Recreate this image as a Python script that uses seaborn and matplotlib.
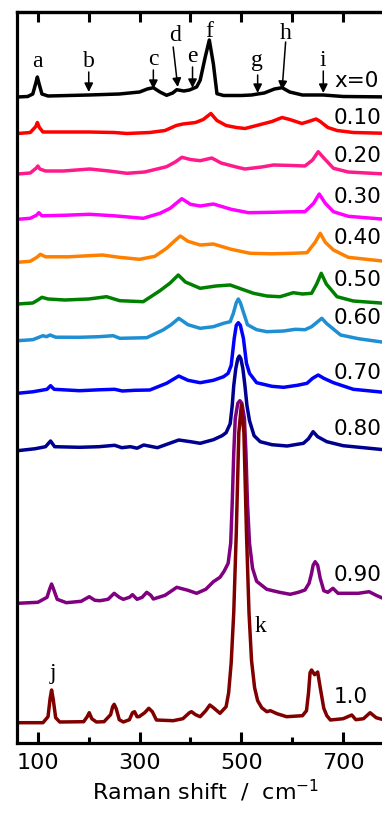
import numpy as np
import pandas as pd
import matplotlib
matplotlib.use("Agg")
import matplotlib.pyplot as plt
import seaborn as sns

# ---------------- data ----------------
samples = ["x=0", "0.10", "0.20", "0.30", "0.40", "0.50", "0.60", "0.70", "0.80", "0.90", "1.0"]
colors = ["#000000", "#ff0000", "#ff1a8c", "#ff00ff", "#ff8000", "#008000",
          "#1e8fd2", "#0000ff", "#000090", "#800080", "#800000"]

shift_x0 = [60, 80, 90, 96, 99, 102, 108, 120, 200, 260, 300, 315, 327, 340, 353, 365, 373, 387,
            398, 404, 412, 419, 429, 437, 445, 452, 465, 500, 520, 532, 545, 565, 580, 595, 620, 661, 700, 800]
int_x0 = [0, 0.5, 3, 14, 20, 14, 3, 1, 2, 3, 5, 8, 9.3, 5, 1.7, 4, 7.3, 6,
          7, 8.3, 10, 16.7, 40, 57, 33, 3.3, 1.5, 1.5, 2, 3, 4, 8, 9.3, 5, 2, 2, 0.5, 0]

shift_010 = [60, 85, 96, 99, 103, 110, 150, 200, 250, 275, 320, 350, 372, 385, 410, 425, 440, 452, 470,
             490, 507, 530, 560, 580, 595, 619, 632, 647, 655, 670, 688, 720, 800]
int_010 = [0, 1, 7, 11, 6, 1.5, 1.5, 1.5, 1, 0, 1, 3, 8, 9.5, 11, 14, 20, 13, 8,
           6, 5, 8, 12, 16, 14, 10, 12, 14.5, 12, 6, 3, 1, 0]

shift_020 = [60, 85, 97, 100, 104, 115, 150, 202, 240, 275, 310, 353, 370, 383, 400, 419, 442, 460,
             490, 507, 540, 563, 600, 625, 640, 651, 662, 681, 710, 800]
int_020 = [0, 1, 6, 8, 5, 3, 3, 5, 3, 0.7, 2, 7.3, 12, 16.7, 14.5, 13.3, 16, 11,
           7, 5, 7, 9, 8.5, 8, 14, 22.3, 16, 5.7, 2, -0.5]

shift_030 = [60, 85, 97, 102, 108, 150, 202, 250, 307, 340, 360, 383, 400, 419, 445, 480, 514, 560,
             600, 625, 642, 653, 665, 681, 710, 800]
int_030 = [0, 1, 4, 6.6, 3.5, 4, 5, 3.5, 1, 6, 11, 20.6, 15, 13.3, 15.3, 10, 6.6, 7,
           7.5, 7.6, 16, 25.3, 16, 7.6, 3, -0.7]

shift_040 = [60, 85, 98, 105, 115, 160, 227, 260, 300, 330, 353, 370, 380, 395, 419, 445, 480, 517,
             560, 600, 629, 645, 655, 665, 681, 710, 800]
int_040 = [0, 1, 5, 8, 5.5, 5.5, 7.3, 5, 3, 6, 14, 22, 26.3, 21, 17.3, 18.3, 13, 9,
           8.5, 9, 9.6, 20, 29, 20, 12.3, 5, 0]

shift_050 = [60, 90, 100, 108, 120, 153, 200, 235, 261, 307, 340, 360, 376, 390, 419, 450, 478, 500,
             524, 550, 576, 602, 620, 638, 648, 657, 667, 688, 720, 800]
int_050 = [0, 1, 4, 6.7, 5, 4, 5, 7.3, 3.3, 2.3, 13.3, 21, 29, 22, 15.7, 18, 19, 15,
           10.7, 8, 7.3, 11.3, 10, 10.7, 20, 30.7, 20, 7.3, 3, 0]

shift_060 = [60, 90, 110, 117, 124, 135, 181, 220, 248, 261, 314, 346, 362, 377, 395, 419, 445, 465,
             478, 484, 490, 494, 498, 505, 512, 530, 550, 583, 606, 625, 638, 650, 658, 668, 695, 730, 800]
int_060 = [0, 1, 5, 4, 5.7, 3.5, 3.4, 4, 5, 2.4, 3, 10.7, 16, 22.4, 16, 12.4, 14, 17.4,
           19, 27, 38, 41.7, 38, 27, 16, 11, 9, 9.7, 11.4, 11, 14, 19, 22.4, 17, 5.7, 2, -3]

shift_070 = [60, 90, 118, 125, 132, 182, 220, 251, 266, 290, 320, 353, 377, 395, 419, 445, 465, 474,
             480, 486, 490, 494, 498, 504, 510, 516, 530, 560, 583, 610, 629, 640, 651, 662, 681, 720, 800]
int_070 = [0, 1.5, 4, 7.6, 4, 2.6, 3.5, 4, 2.3, 3, 3.3, 10, 17.3, 13, 10.6, 13, 16.6, 20,
           28, 55, 68, 70.6, 68, 55, 30, 20, 10.6, 7, 6, 8, 10, 15, 18.3, 15, 10.6, 4, 0]

shift_080 = [60, 95, 115, 125, 133, 182, 220, 251, 265, 282, 295, 308, 335, 377, 400, 419, 445, 462,
             470, 478, 482, 485, 489, 493, 496, 499, 503, 507, 511, 516, 525, 537, 560, 590, 622,
             632, 641, 650, 668, 700, 800]
int_080 = [0, 2, 4, 9.7, 4, 3.4, 4, 5.4, 3, 4, 2.5, 5.7, 3, 10.7, 9, 7.4, 11, 15,
           18, 27, 45, 65, 82, 92, 94.7, 92, 82, 65, 45, 30, 15, 9, 6, 4.7, 7.4,
           12, 19, 14, 9, 5, 0]

shift_090 = [60, 100, 118, 123, 127, 131, 138, 156, 185, 201, 212, 222, 238, 250, 260, 268, 280, 286,
             295, 305, 314, 322, 327, 350, 373, 395, 412, 430, 445, 458, 466, 474, 479, 482, 485,
             488, 493, 497, 501, 506, 509, 512, 516, 522, 530, 550, 575, 596, 612, 625, 633, 638,
             641, 645, 650, 655, 662, 670, 680, 690, 701, 730, 751, 765, 800]
int_090 = [0, 1, 6, 14, 19.3, 14, 4, 0.6, 2, 6.6, 3, 2.6, 4, 10, 6, 4, 6, 8.6,
           4, 6, 11, 8, 4.3, 8, 16, 13, 10, 14, 21.6, 26, 32, 40, 60, 100, 150,
           185, 200, 202.6, 200, 185, 150, 100, 60, 35, 22, 14, 11, 9, 11, 13.3, 20, 30,
           38, 41.6, 38, 25, 12.6, 11, 15, 10, 10, 10, 11.6, 8, 0]

shift_100 = [60, 110, 120, 124, 127, 130, 135, 143, 190, 197, 201, 206, 215, 230, 243, 247, 250, 254,
             260, 268, 280, 286, 290, 295, 299, 310, 318, 325, 333, 366, 385, 398, 402, 410, 419,
             430, 438, 445, 458, 470, 475, 480, 485, 490, 495, 500, 505, 510, 515, 520, 526, 532,
             540, 550, 557, 570, 589, 620, 628, 632, 635, 638, 644, 650, 655, 662, 668, 675, 700,
             717, 725, 740, 753, 765, 800]
int_100 = [0, 0, 6, 24, 32.7, 24, 5, 0.7, 1, 6, 10, 4, 0.7, 1, 8, 16, 18.4, 14,
           3, 0.7, 3, 10, 11, 6, 6, 10, 14.4, 11, 2.7, 2, 4, 10, 11, 8, 6,
           12, 17.7, 15, 9.4, 16, 30, 60, 110, 190, 290, 317.7, 290, 190, 110, 62, 35, 22,
           15, 11, 12, 9, 6, 7, 12, 30, 50, 52.7, 48, 50.7, 35, 14.4, 7, 2.7, 4,
           7.7, 3, 4, 10, 5, 0]

shifts = [shift_x0, shift_010, shift_020, shift_030, shift_040, shift_050,
          shift_060, shift_070, shift_080, shift_090, shift_100]
intensities = [int_x0, int_010, int_020, int_030, int_040, int_050,
               int_060, int_070, int_080, int_090, int_100]

# vertical stacking offsets of the curves (plot layout)
offsets = [646, 609.5, 569, 523.7, 480.7, 439, 402.3, 349.7, 292.3, 139.7, 20.3]
label_y = [662, 625, 587, 546, 505, 463, 425, 370, 314, 168, 46]

# ---------------- build table ----------------
frames = []
for s, xs, ys, off in zip(samples, shifts, intensities, offsets):
    frames.append(pd.DataFrame({"shift": xs,
                                "signal": np.asarray(ys, float) + off,
                                "sample": s}))
df = pd.concat(frames, ignore_index=True)

# ---------------- plot ----------------
sns.set_theme(style="white")
plt.rcParams["font.family"] = ["DejaVu Sans"]
plt.rcParams["text.color"] = "black"
plt.rcParams["axes.labelcolor"] = "black"
plt.rcParams["xtick.color"] = "black"
plt.rcParams["xtick.labelcolor"] = "black"

fig = plt.figure(figsize=(3.82, 8.15), dpi=100)
ax = fig.add_axes([17 / 382, 1 - 743 / 815, (394 - 17) / 382, (743 - 12) / 815])

sns.lineplot(data=df, x="shift", y="signal", hue="sample", hue_order=samples,
             palette=dict(zip(samples, colors)), sort=False, estimator=None,
             legend=False, linewidth=2.5, ax=ax,
             solid_joinstyle="round", solid_capstyle="round")

ax.set_xlim(59, 800)
ax.set_ylim(0, 731)
ax.set_yticks([])
ax.set_ylabel("")

ax.set_xticks([100, 300, 500, 700])
ax.set_xticks([200, 400, 600], minor=True)
ax.tick_params(axis="x", which="major", direction="in", length=8, width=2.2,
               labelsize=16, pad=7, color="black", labelcolor="black", bottom=True)
ax.tick_params(axis="x", which="minor", direction="in", length=4.5, width=2.2,
               color="black", bottom=True)
for sp in ax.spines.values():
    sp.set_linewidth(2.3)
    sp.set_color("black")

top = ax.secondary_xaxis("top")
top.set_xticks([100, 200, 300, 400, 500, 600, 700, 800])
top.tick_params(direction="in", length=7.5, width=2.2, labeltop=False, color="black")
top.spines["top"].set_linewidth(2.3)
top.spines["top"].set_color("black")

ax.set_xlabel("Raman shift  /  cm$^{-1}$", fontsize=16, labelpad=4, color="black")

# curve labels
for s, ly in zip(samples, label_y):
    ax.text(682, ly, s, fontsize=15.5, va="center", ha="left", color="black")

# peak letters
serif = dict(family=["Liberation Serif", "DejaVu Serif"], fontsize=17, ha="center",
             va="center", color="black")
letters = [("a", 100, 681), ("b", 200, 681), ("c", 327, 683), ("d", 369, 707),
           ("e", 404, 686), ("f", 437, 711), ("g", 531, 682), ("h", 587, 709),
           ("i", 661, 682), ("j", 130, 70), ("k", 537, 117)]
for t, x, y in letters:
    ax.text(x, y, t, **serif)

arrows = [((200, 671), (200, 651)), ((327, 673), (327, 654)), ((366, 696), (375, 656)),
          ((404, 676), (404, 655)), ((532, 668), (532, 650)), ((587, 701), (580, 653)),
          ((661, 672), (661, 650))]
for (x0, y0), (x1, y1) in arrows:
    ax.annotate("", xy=(x1, y1), xytext=(x0, y0),
                arrowprops=dict(arrowstyle="-|>", lw=1.1, color="black",
                                mutation_scale=13, shrinkA=0, shrinkB=0))

fig.savefig("out.png", dpi=100)
